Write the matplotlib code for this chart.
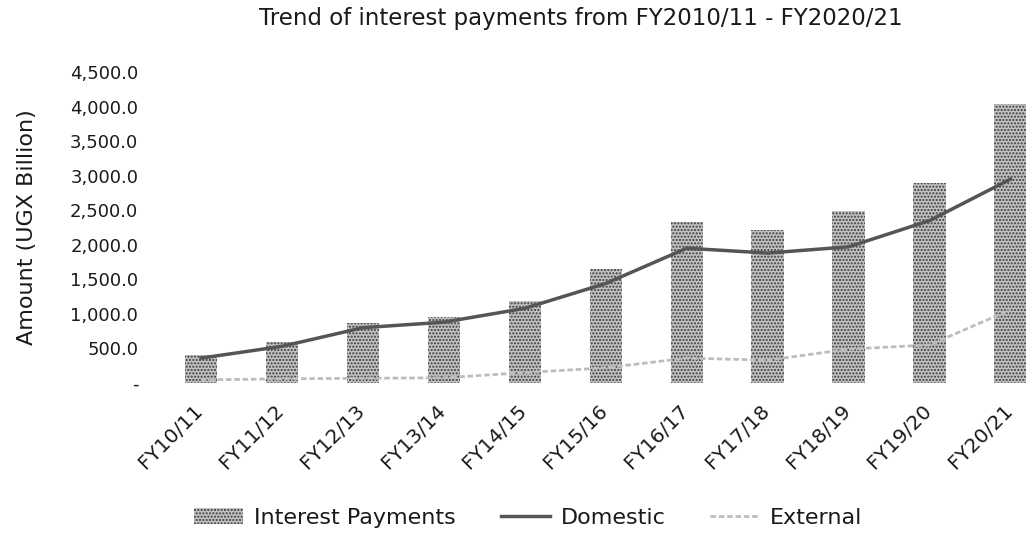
import matplotlib.pyplot as plt
from matplotlib.ticker import FuncFormatter
from matplotlib.transforms import ScaledTranslation

# data (UGX Billion)
years = ['FY10/11', 'FY11/12', 'FY12/13', 'FY13/14', 'FY14/15', 'FY15/16',
         'FY16/17', 'FY17/18', 'FY18/19', 'FY19/20', 'FY20/21']
interest = [405, 593, 868, 955, 1187, 1650, 2330, 2214, 2489, 2894, 4037]
domestic = [360, 530, 800, 880, 1080, 1440, 1950, 1880, 1970, 2350, 2950]
external = [45, 60, 68, 75, 150, 220, 360, 330, 490, 550, 1060]

plt.rcParams['font.family'] = ['DejaVu Sans']
txt = '#1a1a1a'

fig = plt.figure(figsize=(10.26, 5.34), dpi=100)
ax = fig.add_axes([0.1564, 0.2828, 0.868, 0.5824])

x = list(range(len(years)))
bars = ax.bar(x, interest, width=0.4, color='#c2c2c2', edgecolor='#3a3a3a',
              hatch='.....', linewidth=0, label='Interest Payments')
l1, = ax.plot(x, domestic, color='#555555', linewidth=2.5, label='Domestic')
l2, = ax.plot(x, external, color='#bdbdbd', linewidth=2,
              linestyle=(0, (2, 1)), label='External')

ax.set_xlim(-0.5, len(years) - 0.5)
ax.set_ylim(0, 4500)
ax.set_yticks(range(0, 4501, 500))
ax.yaxis.set_major_formatter(FuncFormatter(lambda v, p: '-' if v == 0 else f'{v:,.1f}'))
ax.set_xticks(x)
ax.set_xticklabels(years, rotation=45, ha='right', rotation_mode='anchor')
ax.tick_params(axis='y', length=0, pad=16, labelsize=13, colors=txt)
ax.tick_params(axis='x', length=0, pad=13, labelsize=14.5, colors=txt)
shift = ScaledTranslation(-8 / 100, 0, fig.dpi_scale_trans)
for lab in ax.get_xticklabels():
    lab.set_transform(lab.get_transform() + shift)
for s in ax.spines.values():
    s.set_visible(False)

ax.set_ylabel('Amount (UGX Billion)', fontsize=16, color=txt, labelpad=24)
fig.text(0.566, 0.965, 'Trend of interest payments from FY2010/11 - FY2020/21',
         ha='center', va='center', fontsize=16.5, color=txt)

fig.legend([bars, l1, l2], ['Interest Payments', 'Domestic', 'External'],
           loc='center', bbox_to_anchor=(0.515, 0.03), ncol=3, frameon=False,
           fontsize=16, handlelength=2.2, columnspacing=2.0, handletextpad=0.5,
           labelcolor=txt)

fig.savefig('out.png', dpi=100)
